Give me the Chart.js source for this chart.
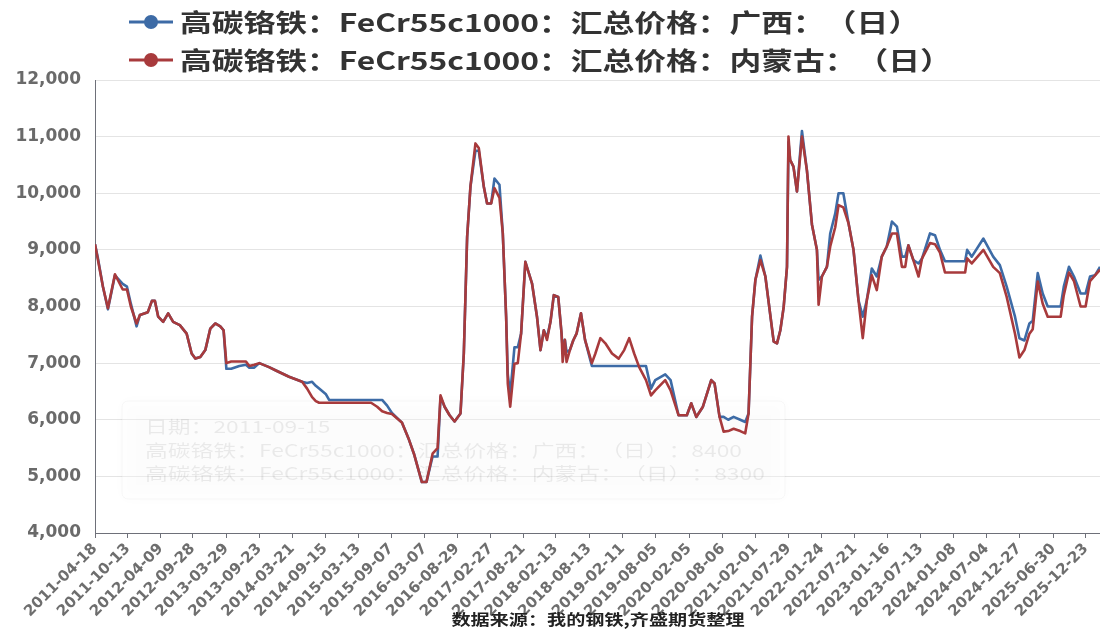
<!DOCTYPE html>
<html>
<head>
<meta charset="utf-8">
<script src="https://cdn.jsdelivr.net/npm/chart.js@4.4.1/dist/chart.umd.min.js"></script>
<style>
  html, body { margin: 0; padding: 0; background: #fff; }
  #wrap { position: relative; width: 1100px; height: 629px; }
</style>
</head>
<body>
<div id="wrap"><canvas id="ctx"></canvas></div>
<script>
// 日期（两条线共用）
const dates = [
  '2011-04-18','2011-05-04','2011-05-31','2011-06-27','2011-08-04','2011-09-15','2011-10-08','2011-10-29','2011-11-29','2011-12-17',
  '2012-01-29','2012-02-20','2012-03-07','2012-03-25','2012-04-21','2012-05-18','2012-06-14','2012-07-20','2012-08-26','2012-09-22','2012-10-12','2012-11-08','2012-12-05',
  '2013-01-01','2013-01-28','2013-02-24','2013-03-14','2013-03-29','2013-04-24','2013-06-07','2013-07-13','2013-07-31','2013-08-27','2013-09-23','2013-11-15','2013-12-22',
  '2014-03-03','2014-05-13','2014-06-09','2014-07-06','2014-07-26','2014-08-13','2014-09-19','2014-10-06',
  '2015-05-21','2015-06-23','2015-07-20','2015-08-16','2015-09-11','2015-11-04','2015-12-12',
  '2016-01-08','2016-02-20','2016-03-16','2016-04-18','2016-05-15','2016-05-31','2016-06-22','2016-07-19','2016-08-15','2016-09-16','2016-10-04','2016-10-22','2016-11-09','2016-12-06','2016-12-24',
  '2017-01-20','2017-02-07','2017-03-01','2017-03-19','2017-04-15','2017-05-03','2017-05-21','2017-05-30','2017-06-12','2017-07-05','2017-07-23','2017-08-10','2017-09-02','2017-10-08','2017-11-04','2017-11-23','2017-12-11','2017-12-28',
  '2018-01-16','2018-02-03','2018-02-27','2018-03-17','2018-03-23','2018-04-04','2018-04-13','2018-05-01','2018-05-19','2018-06-06','2018-06-30','2018-07-22','2018-08-28','2018-09-16','2018-10-13','2018-11-09','2018-12-15',
  '2019-01-20','2019-02-19','2019-03-18','2019-04-14','2019-05-11','2019-06-17','2019-07-14','2019-08-06','2019-09-29','2019-10-28','2019-12-10',
  '2020-01-24','2020-02-17','2020-03-15','2020-04-20','2020-06-04','2020-06-22','2020-07-19','2020-08-10','2020-09-04','2020-10-03','2020-11-08','2020-12-05','2020-12-23',
  '2021-01-11','2021-01-29','2021-02-25','2021-03-24','2021-05-08','2021-05-26','2021-06-13','2021-07-01','2021-07-19','2021-07-27','2021-08-05','2021-08-23','2021-09-11','2021-10-08','2021-11-04','2021-12-01','2021-12-28',
  '2022-01-06','2022-01-24','2022-02-20','2022-03-10','2022-04-06','2022-04-24','2022-05-20','2022-06-17','2022-07-14','2022-08-10','2022-09-02','2022-09-24','2022-10-21','2022-11-17','2022-12-14',
  '2023-01-10','2023-02-07','2023-03-06','2023-04-02','2023-04-20','2023-05-07','2023-06-03','2023-07-01','2023-07-20','2023-09-01','2023-09-28','2023-10-25','2023-11-21',
  '2024-03-09','2024-03-20','2024-04-14','2024-06-16','2024-08-08','2024-09-13','2024-10-20','2024-12-04','2024-12-28',
  '2025-01-24','2025-02-20','2025-03-10','2025-04-06','2025-05-03','2025-05-30','2025-08-08','2025-08-25','2025-09-22','2025-10-19','2025-11-24','2025-12-21',
  '2026-01-14','2026-02-10','2026-03-09'
];

// 广西
const guangxi = [
  9100,8850,8350,7950,8550,8400,8350,8050,7650,7850,
  7900,8100,8100,7820,7730,7880,7730,7670,7520,7170,7080,7110,7230,
  7610,7700,7650,7580,6900,6900,6950,6970,6920,6920,7000,6930,6870,
  6760,6670,6650,6670,6600,6550,6450,6350,
  6350,6350,6350,6250,6120,5950,5650,
  5400,4900,4900,5350,5350,6400,6230,6080,5970,6110,7170,9230,10120,10750,10750,
  10120,9820,9820,10260,10150,9290,7820,6800,6450,7280,7280,7520,8790,8410,7820,7230,7580,7450,
  7730,8200,8170,7520,7250,7410,7200,7230,7400,7520,7880,7410,6950,6950,6950,6950,6950,
  6950,6950,6950,6950,6950,6950,6550,6700,6800,6700,6080,
  6080,6290,6050,6230,6700,6640,6050,6050,6000,6050,6000,5960,6110,
  7820,8470,8900,8530,7380,7350,7580,7990,8700,10900,10590,10470,10030,11100,10400,9450,9000,
  8470,8530,8700,9290,9640,10000,10000,9470,9000,8110,7820,8110,8670,8530,8880,
  9060,9500,9410,8880,8880,9080,8820,8760,8850,9290,9260,9000,8800,
  8800,9000,8880,9200,8880,8730,8350,7820,7440,
  7400,7700,7750,8590,8230,8000,8000,8350,8700,8530,8230,8230,
  8530,8550,8700
];

// 内蒙古
const neimenggu = [
  9100,8820,8350,7970,8570,8300,8300,8000,7700,7850,
  7900,8100,8100,7820,7730,7880,7730,7670,7520,7170,7080,7110,7230,
  7610,7700,7650,7580,7000,7030,7030,7030,6950,6970,7000,6930,6870,
  6760,6670,6550,6400,6330,6300,6300,6300,
  6300,6230,6150,6120,6100,5950,5650,
  5400,4900,4900,5400,5500,6430,6230,6080,5970,6110,7170,9230,10120,10880,10800,
  10120,9820,9820,10090,9920,9290,7820,6640,6230,6990,7000,7520,8790,8410,7820,7230,7580,7410,
  7730,8200,8170,7520,7020,7410,7020,7230,7400,7520,7880,7410,7000,7170,7440,7350,7170,
  7080,7230,7440,7170,6930,6700,6430,6520,6700,6520,6080,
  6080,6290,6050,6230,6700,6640,6050,5790,5800,5840,5800,5760,6110,
  7820,8470,8820,8530,7380,7350,7580,7990,8700,11000,10590,10470,10030,11000,10400,9450,9000,
  8030,8530,8700,9060,9400,9790,9750,9470,9000,8110,7440,8110,8550,8290,8880,
  9060,9290,9290,8700,8700,9080,8820,8530,8850,9120,9100,8950,8600,
  8600,8850,8760,9000,8700,8590,8170,7520,7100,
  7230,7520,7600,8440,8050,7820,7820,8200,8600,8450,8000,8000,
  8450,8550,8650
];

// x 轴标签
const tickLabels = [
  '2011-04-18','2011-10-13','2012-04-09','2012-09-28','2013-03-29','2013-09-23','2014-03-21','2014-09-15',
  '2015-03-13','2015-09-07','2016-03-07','2016-08-29','2017-02-27','2017-08-21','2018-02-13','2018-08-13',
  '2019-02-11','2019-08-05','2020-02-05','2020-08-06','2021-02-01','2021-07-29','2022-01-24','2022-07-21',
  '2023-01-16','2023-07-13','2024-01-08','2024-07-04','2024-12-27','2025-06-30','2025-12-23'
];

const seriesNames = [
  '高碳铬铁：FeCr55c1000：汇总价格：广西：（日）',
  '高碳铬铁：FeCr55c1000：汇总价格：内蒙古：（日）'
];
const sourceText = '数据来源：我的钢铁,齐盛期货整理';
const ghostLines = [
  '日期：2011-09-15',
  '高碳铬铁：FeCr55c1000：汇总价格：广西：（日）：8400',
  '高碳铬铁：FeCr55c1000：汇总价格：内蒙古：（日）：8300'
];
const colors = ['#3d6ba6', '#a83a3c'];

// 全角标点单独排，避免浏览器把相邻标点挤在一起
const pieces = text => text.match(/[：（）]|[^：（）]+/g);

function textWidth(ctx, text, font) {
  ctx.save();
  ctx.font = font;
  let w = 0;
  pieces(text).forEach(p => { w += ctx.measureText(p).width; });
  ctx.restore();
  return w;
}

// 横向拉伸的文字（原图文字偏宽）
function wideText(ctx, text, x, y, font, color, sx, align) {
  const w = textWidth(ctx, text, font) * sx;
  ctx.save();
  ctx.font = font;
  ctx.fillStyle = color;
  ctx.textBaseline = 'middle';
  ctx.textAlign = 'left';
  ctx.translate(align === 'center' ? x - w / 2 : x, y);
  ctx.scale(sx, 1);
  let cx = 0;
  pieces(text).forEach(p => {
    ctx.fillText(p, cx, 0);
    cx += ctx.measureText(p).width;
  });
  ctx.restore();
}

const decor = {
  id: 'decor',
  beforeDatasetsDraw(chart) {
    const c = chart.ctx;
    // 残留的 tooltip
    c.save();
    c.shadowColor = 'rgba(0,0,0,0.05)';
    c.shadowBlur = 12;
    c.fillStyle = 'rgba(255,255,255,0.35)';
    c.strokeStyle = 'rgba(0,0,0,0.03)';
    c.beginPath();
    c.roundRect(122, 401, 663, 98, 6);
    c.fill();
    c.stroke();
    c.restore();
    const f = '17px "Noto Sans CJK SC"';
    const sx = 597 / textWidth(c, ghostLines[1], f);
    ghostLines.forEach((t, i) => {
      wideText(c, t, 145, 427 + i * 23.5, f, 'rgba(0,0,0,0.075)', sx, 'left');
    });
  },
  afterDraw(chart) {
    const c = chart.ctx;
    // 图例
    const lf = 'bold 25px "Noto Sans CJK SC"';
    const sx = 740 / textWidth(c, seriesNames[0], lf);
    [22, 60].forEach((y, i) => {
      c.save();
      c.strokeStyle = colors[i];
      c.lineWidth = 3;
      c.beginPath();
      c.moveTo(129, y);
      c.lineTo(173, y);
      c.stroke();
      c.fillStyle = colors[i];
      c.beginPath();
      c.arc(151, y, 7, 0, Math.PI * 2);
      c.fill();
      c.restore();
      wideText(c, seriesNames[i], 180, y, lf, '#333', sx, 'left');
    });
    // 数据来源
    const sf = 'bold 15px "Noto Sans CJK SC"';
    wideText(c, sourceText, 598, 619, sf, '#222', 293 / textWidth(c, sourceText, sf), 'center');
  }
};

const toPoints = vals => dates.map((d, i) => ({ x: Date.parse(d), y: vals[i] }));

new Chart(document.getElementById('ctx'), {
  type: 'line',
  data: {
    datasets: [
      { label: seriesNames[0], data: toPoints(guangxi), borderColor: colors[0], borderWidth: 2.6, pointRadius: 0, tension: 0, order: 1, borderJoinStyle: 'round' },
      { label: seriesNames[1], data: toPoints(neimenggu), borderColor: colors[1], borderWidth: 2.6, pointRadius: 0, tension: 0, order: 0, borderJoinStyle: 'round' }
    ]
  },
  options: {
    responsive: true,
    maintainAspectRatio: false,
    animation: false,
    layout: { padding: { top: 80, right: 0, bottom: 0, left: 0 } },
    plugins: { legend: { display: false }, tooltip: { enabled: false } },
    scales: {
      x: {
        type: 'linear',
        min: Date.parse('2011-04-18'),
        max: Date.parse('2026-03-09'),
        afterBuildTicks: s => { s.ticks = tickLabels.map(t => ({ value: Date.parse(t) })); },
        afterFit: s => { s.height = 96; s.paddingLeft = 0; s.paddingRight = 0; },
        grid: { drawOnChartArea: false, drawTicks: true, tickLength: 5, color: '#6e7079' },
        border: { color: '#6e7079', width: 1 },
        ticks: {
          autoSkip: false,
          maxRotation: 45,
          minRotation: 45,
          padding: 2,
          color: '#6e6e6e',
          font: { family: 'DejaVu Sans', size: 15, weight: 'bold' },
          callback: v => new Date(v).toISOString().slice(0, 10)
        }
      },
      y: {
        min: 4000,
        max: 12000,
        afterFit: s => { s.width = 95; s.paddingTop = 0; s.paddingBottom = 0; },
        grid: { color: '#e4e4e4', drawTicks: false },
        border: { color: '#6e7079', width: 1 },
        ticks: {
          stepSize: 1000,
          padding: 14,
          color: '#6a6a6a',
          font: { family: 'DejaVu Sans', size: 17, weight: 'bold' },
          callback: v => v.toLocaleString('en-US')
        }
      }
    }
  },
  plugins: [decor]
});
</script>
</body>
</html>
